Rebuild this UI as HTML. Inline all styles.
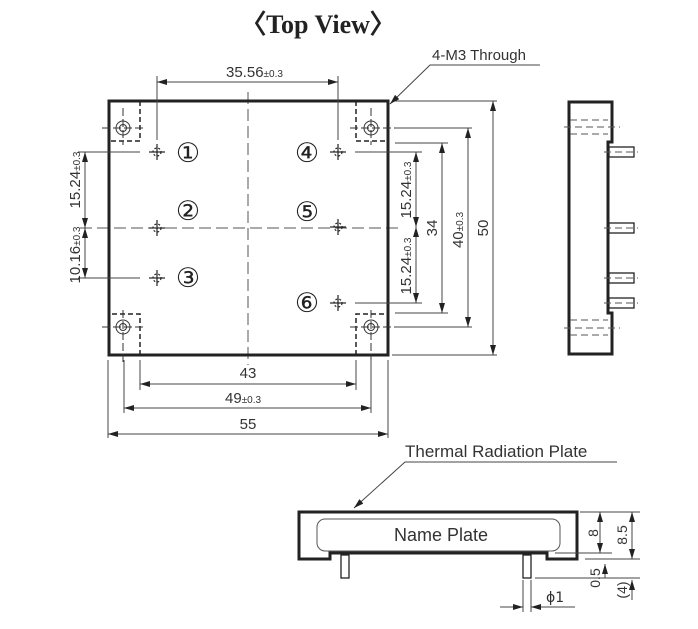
<!DOCTYPE html>
<html><head><style>
html,body{margin:0;padding:0;background:#fff;}
svg{display:block;font-family:"Liberation Sans",sans-serif;}
</style></head><body>
<svg width="698" height="629" viewBox="0 0 698 629" xmlns="http://www.w3.org/2000/svg">
<defs>
<marker id="a" viewBox="0 0 10 6" refX="10" refY="3" markerWidth="10" markerHeight="6" orient="auto-start-reverse" markerUnits="userSpaceOnUse"><path d="M0,0 L10,3 L0,6 Z" fill="#222"/></marker>
</defs>
<text x="318" y="33" text-anchor="middle" font-family="Liberation Serif,serif" font-weight="bold" font-size="26" fill="#222">〈Top View〉</text>

<g stroke="#555" stroke-width="1" fill="none">
<line x1="248" y1="92" x2="248" y2="365" stroke-dasharray="12,5"/>
<line x1="80" y1="228" x2="398" y2="228" stroke-dasharray="12,5"/>
</g>
<rect x="109" y="101" width="279" height="254" fill="none" stroke="#222" stroke-width="3"/>
<g stroke="#222" stroke-width="1.5" fill="none" stroke-dasharray="5,3">
<path d="M140,101 V141 H109"/>
<path d="M356,101 V141 H388"/>
<path d="M140,355 V314 H109"/>
<path d="M356,355 V314 H388"/>
</g>
<g stroke="#333" fill="none">
<circle cx="123" cy="128" r="7"/><circle cx="123" cy="128" r="3.5"/>
<circle cx="371" cy="128" r="7"/><circle cx="371" cy="128" r="3.5"/>
<circle cx="123" cy="327" r="7"/><circle cx="123" cy="327" r="3.5"/>
<circle cx="371" cy="327" r="7"/><circle cx="371" cy="327" r="3.5"/>
<g stroke-width="1" stroke-dasharray="8,3">
<line x1="102" y1="128" x2="145" y2="128"/><line x1="123" y1="108" x2="123" y2="145"/>
<line x1="350" y1="128" x2="398" y2="128"/><line x1="371" y1="108" x2="371" y2="145"/>
<line x1="102" y1="327" x2="145" y2="327"/><line x1="123" y1="310" x2="123" y2="365"/>
<line x1="350" y1="327" x2="398" y2="327"/><line x1="371" y1="310" x2="371" y2="365"/>
</g>
</g>
<g stroke="#222" stroke-width="1.2" fill="none">
<g transform="translate(157,152)"><circle r="4" stroke-dasharray="2,2"/><line x1="-8" x2="8"/><line y1="-8" y2="8"/></g>
<g transform="translate(157,228)"><circle r="4" stroke-dasharray="2,2"/><line x1="-8" x2="8"/><line y1="-8" y2="8"/></g>
<g transform="translate(157,278)"><circle r="4" stroke-dasharray="2,2"/><line x1="-8" x2="8"/><line y1="-8" y2="8"/></g>
<g transform="translate(338,152)"><circle r="4" stroke-dasharray="2,2"/><line x1="-8" x2="8"/><line y1="-8" y2="8"/></g>
<g transform="translate(338,227)"><circle r="4" stroke-dasharray="2,2"/><line x1="-8" x2="8"/><line y1="-8" y2="8"/></g>
<g transform="translate(338,303)"><circle r="4" stroke-dasharray="2,2"/><line x1="-8" x2="8"/><line y1="-8" y2="8"/></g>
</g>
<g font-size="27" fill="#222" text-anchor="middle" font-family="DejaVu Sans,sans-serif">
<text x="188" y="162">①</text><text x="188" y="220">②</text><text x="188" y="287">③</text>
<text x="307" y="162">④</text><text x="307" y="221">⑤</text><text x="307" y="312">⑥</text>
</g>

<g stroke="#444" stroke-width="1" fill="none">
<line x1="157" y1="76" x2="157" y2="140"/><line x1="338" y1="76" x2="338" y2="140"/>
<line x1="157" y1="82" x2="338" y2="82" marker-start="url(#a)" marker-end="url(#a)"/>
<line x1="78" y1="152" x2="140" y2="152"/><line x1="78" y1="278" x2="140" y2="278"/>
<line x1="85" y1="152" x2="85" y2="228" marker-start="url(#a)" marker-end="url(#a)"/>
<line x1="85" y1="228" x2="85" y2="278" marker-start="url(#a)" marker-end="url(#a)"/>
<line x1="355" y1="152" x2="422" y2="152"/><line x1="355" y1="303" x2="422" y2="303"/>
<line x1="395" y1="143" x2="448" y2="143"/><line x1="395" y1="313" x2="448" y2="313"/>
<line x1="395" y1="128" x2="472" y2="128"/><line x1="395" y1="327" x2="472" y2="327"/>
<line x1="392" y1="101" x2="497" y2="101"/><line x1="392" y1="355" x2="497" y2="355"/>
<line x1="416" y1="152" x2="416" y2="227" marker-start="url(#a)" marker-end="url(#a)"/>
<line x1="416" y1="227" x2="416" y2="303" marker-start="url(#a)" marker-end="url(#a)"/>
<line x1="442" y1="143" x2="442" y2="313" marker-start="url(#a)" marker-end="url(#a)"/>
<line x1="468" y1="128" x2="468" y2="327" marker-start="url(#a)" marker-end="url(#a)"/>
<line x1="493" y1="101" x2="493" y2="355" marker-start="url(#a)" marker-end="url(#a)"/>
<line x1="140" y1="360" x2="140" y2="390"/><line x1="356" y1="360" x2="356" y2="390"/>
<line x1="124" y1="360" x2="124" y2="413"/><line x1="371" y1="360" x2="371" y2="413"/>
<line x1="108" y1="360" x2="108" y2="438"/><line x1="388" y1="360" x2="388" y2="438"/>
<line x1="140" y1="384" x2="356" y2="384" marker-start="url(#a)" marker-end="url(#a)"/>
<line x1="124" y1="408" x2="371" y2="408" marker-start="url(#a)" marker-end="url(#a)"/>
<line x1="108" y1="434" x2="388" y2="434" marker-start="url(#a)" marker-end="url(#a)"/>
<polyline points="540,65 430,65 390,104" marker-end="url(#a)"/>
<polyline points="617,462 405,462 354,508" marker-end="url(#a)"/>
</g>
<g fill="#333" font-size="15">
<text x="226" y="77">35.56<tspan font-size="10">±0.3</tspan></text>
<text x="432" y="60">4-M3 Through</text>
<text x="248" y="378" text-anchor="middle">43</text>
<text x="225" y="403">49<tspan font-size="10">±0.3</tspan></text>
<text x="248" y="429" text-anchor="middle">55</text>
<text transform="translate(80,180) rotate(-90)" text-anchor="middle">15.24<tspan font-size="10">±0.3</tspan></text>
<text transform="translate(80,255) rotate(-90)" text-anchor="middle">10.16<tspan font-size="10">±0.3</tspan></text>
<text transform="translate(411,190) rotate(-90)" text-anchor="middle">15.24<tspan font-size="10">±0.3</tspan></text>
<text transform="translate(411,266) rotate(-90)" text-anchor="middle">15.24<tspan font-size="10">±0.3</tspan></text>
<text transform="translate(437,228) rotate(-90)" text-anchor="middle">34</text>
<text transform="translate(463,230) rotate(-90)" text-anchor="middle">40<tspan font-size="10">±0.3</tspan></text>
<text transform="translate(488,228) rotate(-90)" text-anchor="middle">50</text>
<text x="405" y="457" font-size="17">Thermal Radiation Plate</text>
</g>

<path d="M569,102 H612 V142 H608 V313 H612 V354 H569 Z" fill="none" stroke="#222" stroke-width="3"/>
<g fill="#fff" stroke="#222" stroke-width="1.3">
<rect x="609" y="147" width="25" height="10"/>
<rect x="609" y="223" width="25" height="10"/>
<rect x="609" y="273" width="25" height="10"/>
<rect x="609" y="298" width="25" height="10"/>
</g>
<g stroke="#555" stroke-width="1" stroke-dasharray="7,4">
<line x1="570" y1="120" x2="608" y2="120"/><line x1="564" y1="127" x2="620" y2="127"/><line x1="570" y1="134" x2="608" y2="134"/>
<line x1="570" y1="320" x2="608" y2="320"/><line x1="564" y1="328" x2="620" y2="328"/><line x1="570" y1="335" x2="608" y2="335"/>
<line x1="604" y1="152" x2="638" y2="152"/><line x1="604" y1="228" x2="638" y2="228"/>
<line x1="604" y1="278" x2="638" y2="278"/><line x1="604" y1="303" x2="638" y2="303"/>
</g>

<path d="M299,512 H577 V559 H547 V553 H330 V559 H299 Z" fill="none" stroke="#222" stroke-width="3"/>
<rect x="317" y="519" width="243" height="32" rx="8" fill="none" stroke="#555" stroke-width="1"/>
<text x="441" y="541" text-anchor="middle" font-size="18" fill="#333">Name Plate</text>
<g fill="#fff" stroke="#222" stroke-width="1.3">
<rect x="341" y="555" width="8" height="23"/><rect x="523" y="555" width="8" height="23"/>
</g>
<g stroke="#444" stroke-width="1" fill="none">
<line x1="580" y1="512" x2="640" y2="512"/>
<line x1="555" y1="553" x2="612" y2="553"/>
<line x1="585" y1="559" x2="640" y2="559"/>
<line x1="535" y1="578" x2="640" y2="578"/>
<line x1="600" y1="512" x2="600" y2="553" marker-start="url(#a)" marker-end="url(#a)"/>
<line x1="632" y1="512" x2="632" y2="559" marker-start="url(#a)" marker-end="url(#a)"/>
<line x1="605" y1="578" x2="605" y2="564" marker-end="url(#a)"/>
<line x1="632" y1="600" x2="632" y2="580" marker-end="url(#a)"/>
<line x1="523" y1="580" x2="523" y2="612"/><line x1="531" y1="580" x2="531" y2="612"/>
<line x1="500" y1="607" x2="523" y2="607" marker-end="url(#a)"/>
<line x1="575" y1="607" x2="531" y2="607" marker-end="url(#a)"/>
</g>
<g fill="#333" font-size="14">
<text transform="translate(598,533) rotate(-90)" text-anchor="middle">8</text>
<text transform="translate(627,535) rotate(-90)" text-anchor="middle">8.5</text>
<text transform="translate(600,578) rotate(-90)" text-anchor="middle">0.5</text>
<text transform="translate(627,590) rotate(-90)" text-anchor="middle">(4)</text>
<text x="546" y="602" font-family="DejaVu Sans,sans-serif">ϕ1</text>
</g>
</svg>
</body></html>
